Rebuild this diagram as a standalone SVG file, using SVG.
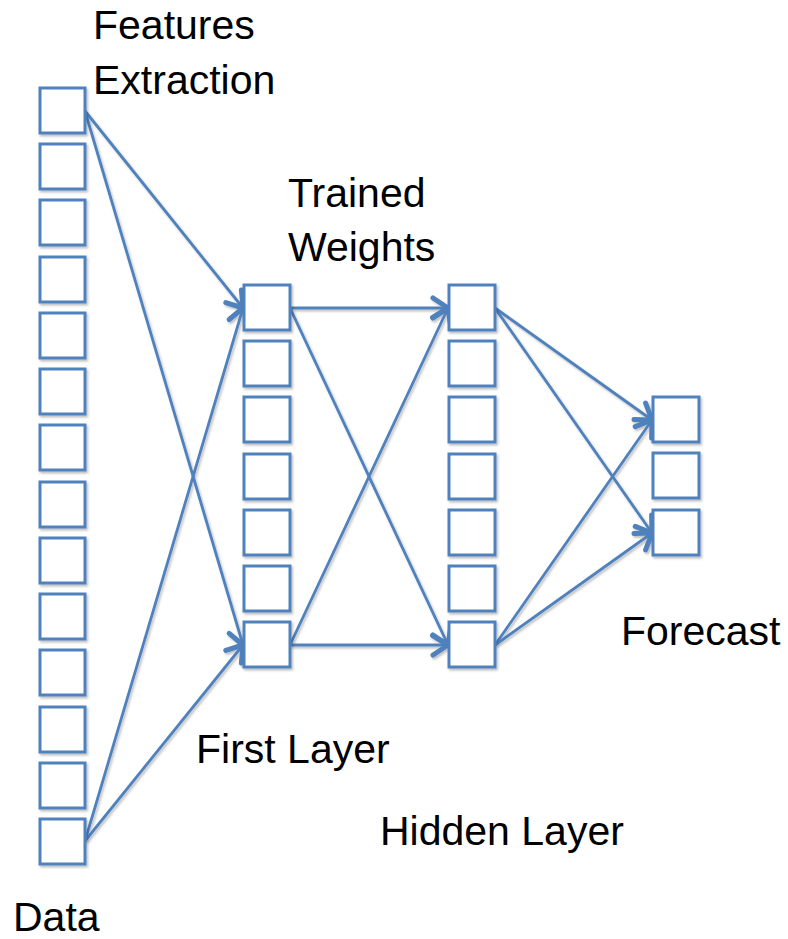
<svg xmlns="http://www.w3.org/2000/svg" width="788" height="939" viewBox="0 0 788 939">
<style>
.box{fill:#fff;stroke:#4f81bd;stroke-width:3}
.ln{stroke:#4f81bd;stroke-width:2.8;fill:none;marker-end:url(#arr)}
.lbl{font-family:"Liberation Sans",Arial,sans-serif;font-size:41px;fill:#000}
</style>
<defs>
<filter id="sh" x="-20%" y="-20%" width="140%" height="140%">
<feDropShadow dx="1.5" dy="2" stdDeviation="1.2" flood-color="#000" flood-opacity="0.25"/>
</filter>
<marker id="arr" markerUnits="userSpaceOnUse" viewBox="-20 -14 24 28" refX="0" refY="0" markerWidth="24" markerHeight="28" orient="auto">
<path d="M-15,-10 L0,0 L-15,10" fill="none" stroke="#4f81bd" stroke-width="5" stroke-linecap="round" stroke-linejoin="round"/>
</marker>
</defs>
<rect width="788" height="939" fill="#fff"/>
<g id="connectors" filter="url(#sh)">
<line class="ln" x1="85" y1="111" x2="243" y2="308"/>
<line class="ln" x1="85" y1="111" x2="243" y2="645"/>
<line class="ln" x1="85" y1="841" x2="243" y2="308"/>
<line class="ln" x1="85" y1="841" x2="243" y2="645"/>
<line class="ln" x1="290" y1="308" x2="448" y2="308"/>
<line class="ln" x1="290" y1="308" x2="448" y2="645"/>
<line class="ln" x1="290" y1="645" x2="448" y2="308"/>
<line class="ln" x1="290" y1="645" x2="448" y2="645"/>
<line class="ln" x1="495" y1="308" x2="652" y2="420"/>
<line class="ln" x1="495" y1="308" x2="652" y2="533"/>
<line class="ln" x1="495" y1="645" x2="652" y2="420"/>
<line class="ln" x1="495" y1="645" x2="652" y2="533"/>
</g>
<g id="data" filter="url(#sh)">
<rect class="box" x="40" y="88" width="45" height="45"/>
<rect class="box" x="40" y="144" width="45" height="45"/>
<rect class="box" x="40" y="200" width="45" height="45"/>
<rect class="box" x="40" y="257" width="45" height="45"/>
<rect class="box" x="40" y="313" width="45" height="45"/>
<rect class="box" x="40" y="369" width="45" height="45"/>
<rect class="box" x="40" y="425" width="45" height="45"/>
<rect class="box" x="40" y="482" width="45" height="45"/>
<rect class="box" x="40" y="538" width="45" height="45"/>
<rect class="box" x="40" y="594" width="45" height="45"/>
<rect class="box" x="40" y="650" width="45" height="45"/>
<rect class="box" x="40" y="707" width="45" height="45"/>
<rect class="box" x="40" y="763" width="45" height="45"/>
<rect class="box" x="40" y="819" width="45" height="45"/>
</g>
<g id="first-layer" filter="url(#sh)">
<rect class="box" x="244" y="285" width="46" height="45"/>
<rect class="box" x="244" y="341" width="46" height="45"/>
<rect class="box" x="244" y="397" width="46" height="45"/>
<rect class="box" x="244" y="454" width="46" height="45"/>
<rect class="box" x="244" y="510" width="46" height="45"/>
<rect class="box" x="244" y="566" width="46" height="45"/>
<rect class="box" x="244" y="622" width="46" height="45"/>
</g>
<g id="hidden-layer" filter="url(#sh)">
<rect class="box" x="449" y="285" width="46" height="45"/>
<rect class="box" x="449" y="341" width="46" height="45"/>
<rect class="box" x="449" y="397" width="46" height="45"/>
<rect class="box" x="449" y="454" width="46" height="45"/>
<rect class="box" x="449" y="510" width="46" height="45"/>
<rect class="box" x="449" y="566" width="46" height="45"/>
<rect class="box" x="449" y="622" width="46" height="45"/>
</g>
<g id="forecast" filter="url(#sh)">
<rect class="box" x="653" y="397" width="46" height="45"/>
<rect class="box" x="653" y="453" width="46" height="45"/>
<rect class="box" x="653" y="510" width="46" height="45"/>
</g>
<g id="labels">
<text class="lbl" x="93" y="39">Features</text>
<text class="lbl" x="93" y="94">Extraction</text>
<text class="lbl" x="288" y="207">Trained</text>
<text class="lbl" x="288" y="261">Weights</text>
<text class="lbl" x="621" y="645">Forecast</text>
<text class="lbl" x="196" y="763">First Layer</text>
<text class="lbl" x="380" y="845">Hidden Layer</text>
<text class="lbl" x="13" y="931">Data</text>
</g>
</svg>
